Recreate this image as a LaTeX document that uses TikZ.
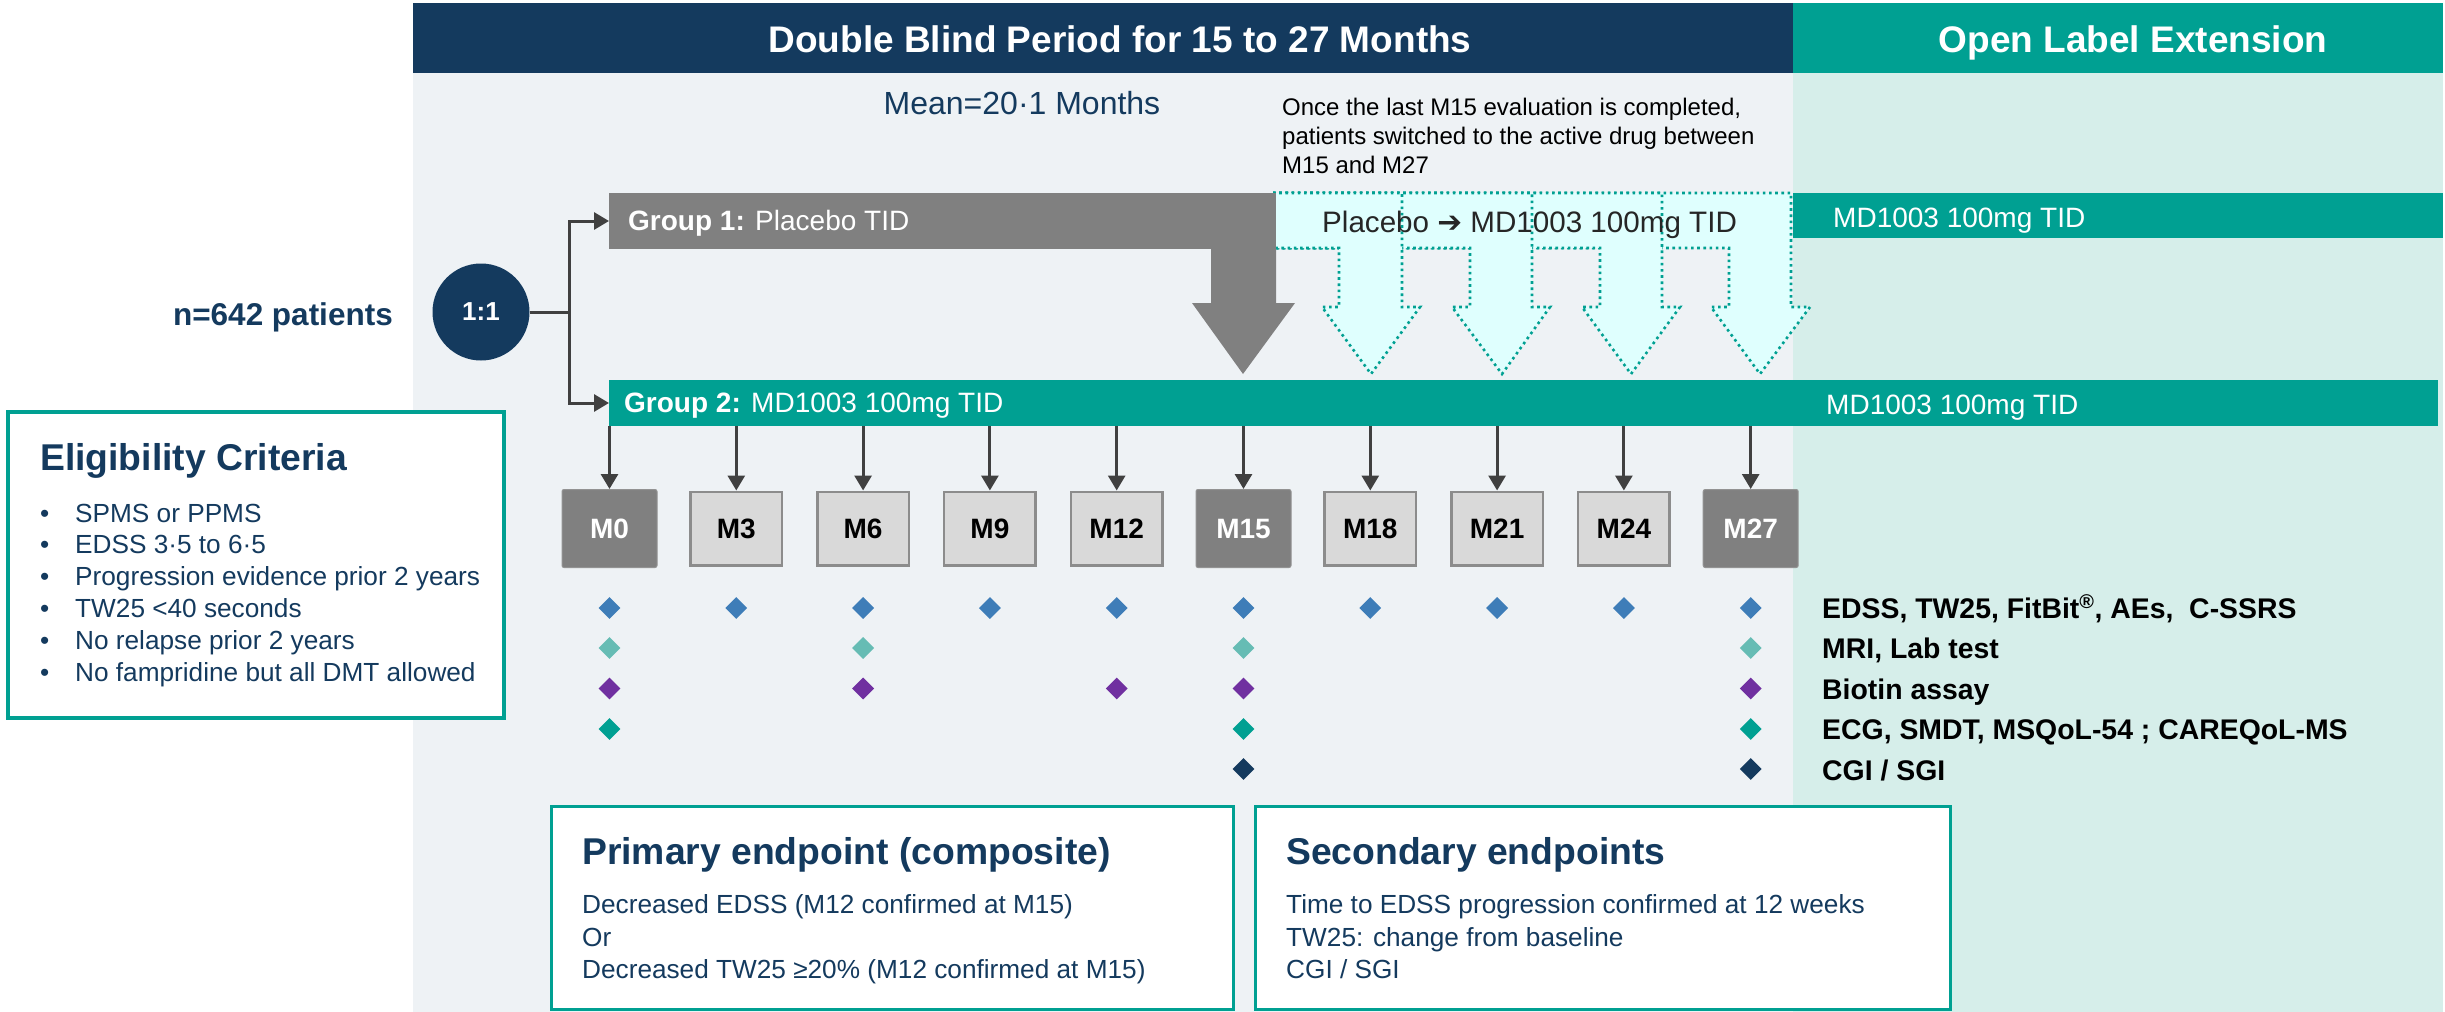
\documentclass[tikz,border=0pt]{standalone}
\usepackage{fontspec}
\setmainfont{Liberation Sans}
\newfontfamily\djv{DejaVu Sans}
\usetikzlibrary{arrows.meta,shapes.geometric}
\definecolor{cNavy}{HTML}{143A5E}
\definecolor{cTeal}{HTML}{00A092}
\definecolor{cBg}{HTML}{EEF2F5}
\definecolor{cBgT}{HTML}{D6EEEA}
\definecolor{cGray}{HTML}{808080}
\definecolor{cLight}{HTML}{D9D9D9}
\definecolor{cBorder}{HTML}{8C8C8C}
\definecolor{cCyan}{HTML}{DFFFFE}
\definecolor{cArrow}{HTML}{404040}
\definecolor{cDark}{HTML}{262626}
\definecolor{cD1}{HTML}{3E7DB8}
\definecolor{cD2}{HTML}{66BCB4}
\definecolor{cD3}{HTML}{7030A0}
\definecolor{cD4}{HTML}{00A092}
\definecolor{cD5}{HTML}{143A5E}
\begin{document}
\begin{tikzpicture}[x=1pt,y=-1pt,
  box/.style={rectangle,inner sep=0pt,outer sep=0pt,anchor=north west},
  mdark/.style={rectangle,minimum width=95pt,minimum height=78pt,fill=cGray,draw=cGray!85!white,line width=1pt,rounded corners=2pt,text=white,font=\fontsize{28}{32}\selectfont\bfseries,inner sep=0pt},
  mlight/.style={rectangle,minimum width=91.5pt,minimum height=73.5pt,fill=cLight,draw=cBorder,line width=2.5pt,text=black,font=\fontsize{28}{32}\selectfont\bfseries,inner sep=0pt},
  conn/.style={draw=cArrow,line width=3pt,-{Triangle[length=15pt,width=17pt]}},
  dmd/.style={diamond,aspect=1,minimum width=22pt,minimum height=22pt,inner sep=0pt},
  txt/.style={inner sep=0pt,anchor=base west},
  dotbox/.style={fill=cCyan,draw=cTeal,line width=2.6pt,dash pattern=on 2.6pt off 3.6pt},
  body/.style={txt,text=cNavy,font=\fontsize{26.2}{30}\selectfont},
  etitle/.style={txt,text=cNavy,font=\fontsize{37.3}{41}\selectfont\bfseries},
  legend/.style={txt,text=black,font=\fontsize{28.4}{32}\selectfont\bfseries},
  bartext/.style={txt,text=white,font=\fontsize{28}{32}\selectfont},
]
\fill[white] (0,0) rectangle (2445,1012);
\useasboundingbox (0,0) rectangle (2445,1012);
% backgrounds
\fill[cBg] (413,73) rectangle (1793,1012);
\fill[cBgT] (1793,73) rectangle (2443,1012);
% header
\node[box,fill=cNavy,minimum width=1380pt,minimum height=70pt] (hdr) at (413,3) {};
\node[box,fill=cTeal,minimum width=650pt,minimum height=70pt] (ole) at (1793,3) {};
\node[anchor=base,inner sep=0pt,text=white,font=\fontsize{37}{41}\selectfont\bfseries] (hdrT) at (1120,52) {Double Blind Period for 15 to 27 Months};
\node[anchor=base,inner sep=0pt,text=white,font=\fontsize{37}{41}\selectfont\bfseries] (oleT) at (2133,52) {Open Label Extension};
% top texts
\node[anchor=base,inner sep=0pt,text=cNavy,font=\fontsize{32}{36}\selectfont] (mean) at (1022,114) {Mean=20·1 Months};
\node[txt,text=black,font=\fontsize{24}{29}\selectfont] (once1) at (1282,115) {Once the last M15 evaluation is completed,};
\node[txt,text=black,font=\fontsize{24}{29}\selectfont] (once2) at (1282,144) {patients switched to the active drug between};
\node[txt,text=black,font=\fontsize{24}{29}\selectfont] (once3) at (1282,173) {M15 and M27};
% OLE bar top
\node[box,fill=cTeal,minimum width=650pt,minimum height=45pt] (ole1) at (1793,193) {};
\node[bartext] (ole1T) at (1833,227) {MD1003 100mg TID};
% dotted switch arrows (drawn right to left)
\foreach \L/\R/\HL/\HR/\T in {1729/1791/1711/1810/1760,1600/1662/1582/1680/1631,1470/1532/1452/1550/1502,1339/1402/1322/1420/1371}{
  \path[dotbox] (1273,193) -- (\R,193) -- (\R,307) -- (\HR,307) -- (\T,374) -- (\HL,307) -- (\L,307) -- (\L,248) -- (1273,248) -- cycle;
}
% group 1 bent arrow
\node[box,fill=cGray,minimum width=667pt,minimum height=56pt] (g1) at (609,193) {};
\fill[cGray] (1211,248) -- (1211,303) -- (1192,303) -- (1243,374) -- (1295,303) -- (1276,303) -- (1276,248) -- cycle;
\node[bartext] (g1T) at (628,230) {\bfseries Group 1:\mdseries{} Placebo TID};
\node[txt,text=cDark,font=\fontsize{29.6}{33}\selectfont] (swT) at (1322,232) {Placebo {\djv\bfseries ➔} MD1003 100mg TID};
% group 2 bar
\node[box,fill=cTeal,minimum width=1829pt,minimum height=46pt] (g2) at (609,380) {};
\node[bartext] (g2T) at (624,412) {\bfseries Group 2:\mdseries{} MD1003 100mg TID};
\node[bartext] (g2R) at (1826,414) {MD1003 100mg TID};
% randomisation
\node[anchor=base east,inner sep=0pt,text=cNavy,font=\fontsize{31.5}{35}\selectfont\bfseries] (npat) at (393,325) {n=642 patients};
\node[circle,fill=cNavy,minimum size=97pt,inner sep=0pt,text=white,font=\fontsize{26}{30}\selectfont\bfseries] (c11) at (481,312) {1:1};
\coordinate (br) at (569,312);
\draw[draw=cArrow,line width=3pt] (c11.east) -- (br);
\draw[conn] (br) |- (g1.west);
\draw[conn] (br) |- (g2.west);
% visit boxes
\foreach \lab/\sty [count=\i from 0] in {M0/mdark,M3/mlight,M6/mlight,M9/mlight,M12/mlight,M15/mdark,M18/mlight,M21/mlight,M24/mlight,M27/mdark}{
  \node[\sty] (m\i) at ({609.5+126.8*\i},528.5) {\lab};
  \draw[conn] (m\i.north |- g2.south) -- (m\i.north);
}
% diamonds
\foreach \c in {0,...,9}{\node[dmd,fill=cD1] (da\c) at ({609.5+126.8*\c},608) {};}
\foreach \c in {0,2,5,9}{\node[dmd,fill=cD2] (db\c) at ({609.5+126.8*\c},648) {};}
\foreach \c in {0,2,4,5,9}{\node[dmd,fill=cD3] (dc\c) at ({609.5+126.8*\c},688.5) {};}
\foreach \c in {0,5,9}{\node[dmd,fill=cD4] (dd\c) at ({609.5+126.8*\c},729) {};}
\foreach \c in {5,9}{\node[dmd,fill=cD5] (de\c) at ({609.5+126.8*\c},769) {};}
% legend
\node[legend] (l1) at (1822,618) {EDSS, TW25, FitBit\textsuperscript{®}, AEs,\ \ C-SSRS};
\node[legend] (l2) at (1822,658.5) {MRI, Lab test};
\node[legend] (l3) at (1822,699) {Biotin assay};
\node[legend] (l4) at (1822,739.5) {ECG, SMDT, MSQoL-54 ; CAREQoL-MS};
\node[legend] (l5) at (1822,780) {CGI / SGI};
% eligibility
\node[box,draw=cTeal,line width=4pt,fill=white,minimum width=496pt,minimum height=306pt] (elig) at (8,412) {};
\node[etitle] (eligT) at (40,470) {Eligibility Criteria};
\foreach \t [count=\j from 0] in {SPMS or PPMS,EDSS 3·5 to 6·5,Progression evidence prior 2 years,TW25 <40 seconds,No relapse prior 2 years,No fampridine but all DMT allowed}{
  \node[body] (eb\j) at (40,{522+31.8*\j}) {•};
  \node[body] (et\j) at (75,{522+31.8*\j}) {\t};
}
% endpoints
\node[box,draw=cTeal,line width=3pt,fill=white,minimum width=682pt,minimum height=203pt] (prim) at (551,806) {};
\node[box,draw=cTeal,line width=3pt,fill=white,minimum width=695pt,minimum height=203pt] (sec) at (1255,806) {};
\node[etitle] (primT) at (582,864) {Primary endpoint (composite)};
\node[body] (p1) at (582,913) {Decreased EDSS (M12 confirmed at M15)};
\node[body] (p2) at (582,946) {Or};
\node[body] (p3) at (582,978) {Decreased TW25 ≥20\% (M12 confirmed at M15)};
\node[etitle] (secT) at (1286,864) {Secondary endpoints};
\node[body] (s1) at (1286,913) {Time to EDSS progression confirmed at 12 weeks};
\node[body] (s2) at (1286,946) {TW25: change from baseline};
\node[body] (s3) at (1286,978) {CGI / SGI};
\end{tikzpicture}
\end{document}
